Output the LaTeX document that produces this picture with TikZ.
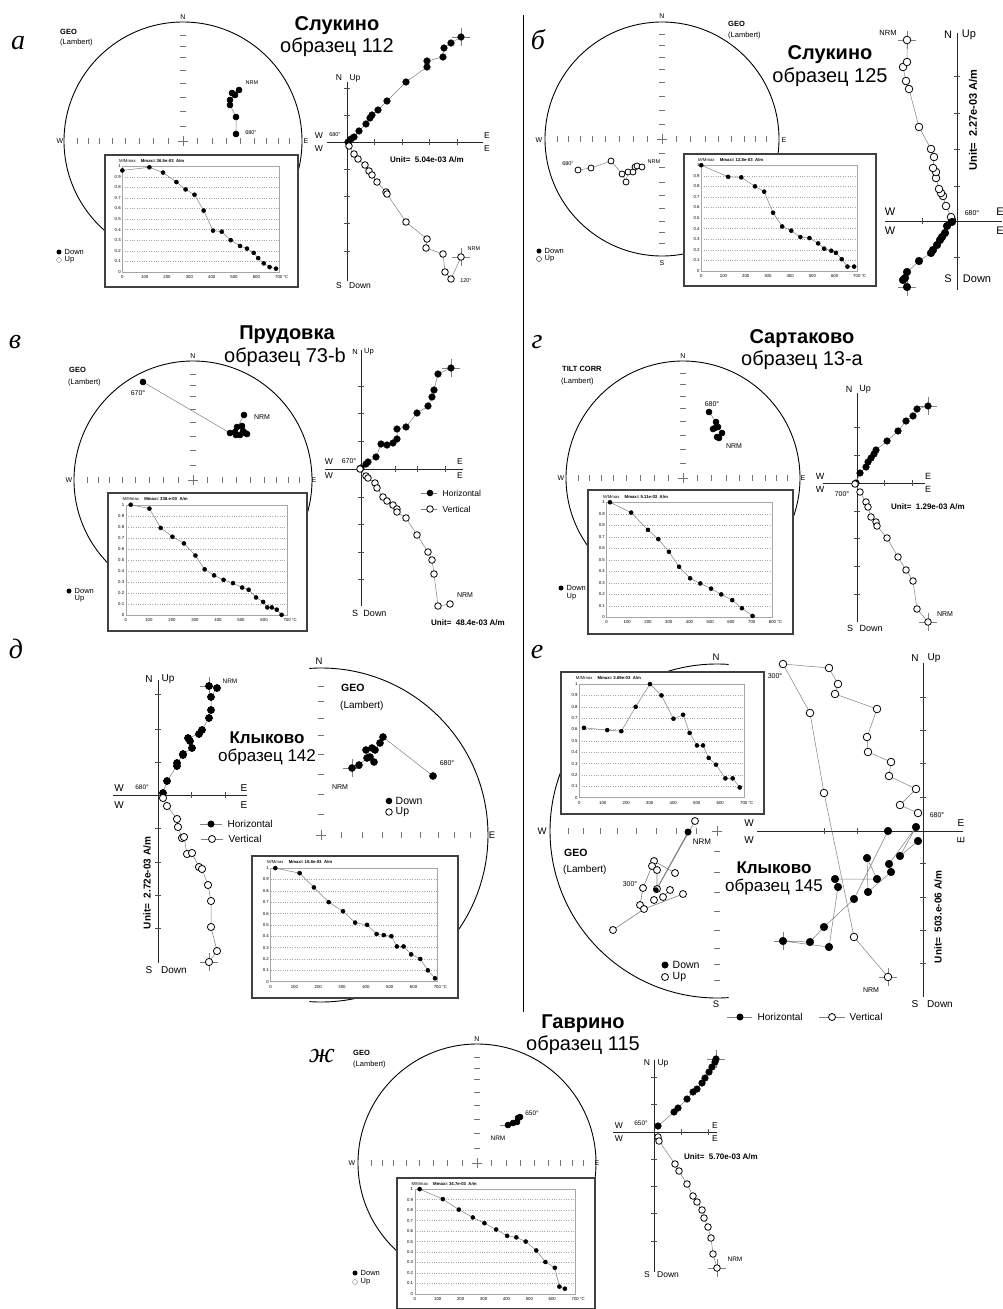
\documentclass[tikz,border=0pt]{standalone}
\usepackage{fontspec}
\setmainfont{Liberation Sans}
\newfontfamily\letfont{Liberation Serif}

\newcommand{\stereo}[3]{%
  \foreach \f in {0.123,0.246,0.366,0.483,0.595,0.700,0.799,0.891}{
    \draw[tk] ({#1+\f*#3},#2-3) -- ++(0,6);
    \draw[tk] ({#1-\f*#3},#2-3) -- ++(0,6);
    \draw[tk] (#1-3,{#2-\f*#3}) -- ++(6,0);
    \draw[tk] (#1-3,{#2+\f*#3}) -- ++(6,0);
  }
  \draw[tk] (#1-5,#2) -- (#1+5,#2) (#1,#2-5) -- (#1,#2+5);
}

\newcommand{\demag}[7]{%
  \begin{scope}[shift={(#1,#2)}]
    \pgfmathsetmacro\dL{0.09*#3}
    \pgfmathsetmacro\dR{0.90*#3}
    \pgfmathsetmacro\dT{0.085*#4}
    \pgfmathsetmacro\dB{0.885*#4}
    \pgfmathsetmacro\dH{\dB-\dT}
    \pgfmathsetmacro\xu{(\dR-\dL)/#5}
    \filldraw[fill=white, draw=black!75, line width=1.1pt] (0,0) rectangle (#3,#4);
    \foreach \k in {1,...,9}
      \draw[grd] (\dL,{\dB-\k*\dH/10}) -- (\dR,{\dB-\k*\dH/10});
    \draw[gray!70, line width=0.4pt] (\dL,\dT) rectangle (\dR,\dB);
    \foreach \k/\s in {0/0,1/0.1,2/0.2,3/0.3,4/0.4,5/0.5,6/0.6,7/0.7,8/0.8,9/0.9,10/1}
      \node[dtx, anchor=east] at (\dL-1,{\dB-\k*\dH/10}) {\s};
    \foreach \t in {0,100,...,#5}
      \node[dtx] at ({\dL+\t*\xu},\dB+5) {\t};
    \node[dtx, anchor=west] at (\dR+4,\dB+5) {°C};
    \node[dtx, anchor=west] at (0.07*#3,0.045*#4) {M/Mmax\hspace{1.2em}\textbf{Mmax= #6\ \ A/m}};
    \begin{scope}[shift={(\dL,\dB)}, x=\xu pt, y=\dH pt]
      \draw[dm] plot coordinates {#7};
    \end{scope}
  \end{scope}
}

\begin{document}
\begin{tikzpicture}[x=1pt,y=-1pt,
  net/.style={line width=0.9pt},
  tk/.style={black!55, line width=0.6pt},
  zax/.style={black!85, line width=0.9pt},
  ztk/.style={black!70, line width=0.6pt},
  xh/.style={gray, line width=0.5pt},
  hz/.style={gray, line width=0.5pt, mark=*, mark size=3.3pt, mark options={draw=black, fill=black}},
  vt/.style={gray, line width=0.5pt, mark=*, mark size=3.3pt, mark options={draw=black, fill=white, line width=0.8pt}},
  sn/.style={hz, mark size=3pt},
  so/.style={vt, mark size=3pt},
  dm/.style={gray, line width=0.5pt, mark=*, mark size=2pt, mark options={draw=black, fill=black}},
  grd/.style={gray!70, dotted, line width=0.4pt},
  dtx/.style={font=\fontsize{4.3}{4.3}\selectfont, inner sep=0.5pt},
  plet/.style={font=\letfont\itshape\fontsize{28}{28}\selectfont, inner sep=0pt},
  ttl/.style={font=\fontsize{#1}{#1}\selectfont\bfseries}, ttl/.default=20,
  smp/.style={font=\fontsize{#1}{#1}\selectfont}, smp/.default=20,
  lb/.style={font=\fontsize{#1}{#1}\selectfont, inner sep=1pt}, lb/.default=7,
  geo/.style={font=\fontsize{#1}{#1}\selectfont\bfseries, anchor=west, inner sep=0pt}, geo/.default=7.5,
  lam/.style={font=\fontsize{#1}{#1}\selectfont, anchor=west, inner sep=0pt}, lam/.default=7.5,
  sm/.style={font=\fontsize{#1}{#1}\selectfont, inner sep=0.5pt}, sm/.default=5.5,
  zl/.style={font=\fontsize{#1}{#1}\selectfont, inner sep=0.5pt}, zl/.default=8.5,
  unt/.style={font=\fontsize{#1}{#1}\selectfont\bfseries, inner sep=0.5pt}, unt/.default=8,
  leg/.style={font=\fontsize{#1}{#1}\selectfont, anchor=west, inner sep=0.5pt}, leg/.default=7.5]
\useasboundingbox (0,0) rectangle (1002,1309);
\clip (0,0) rectangle (1002,1309);
\fill[white] (0,0) rectangle (1002,1309);

\draw[line width=1pt] (523,15) -- (523,1012);

% а
\node[plet] (aLet) at (18,43) {а};
\node[ttl] (aTtl) at (337,26) {Слукино};
\node[smp] (aSmp) at (337,47) {образец 112};
\draw[net] (183,141) circle (119);
\stereo{183}{141}{119}
\node[lb] (aN) at (183,17) {N};
\node[lb] (aW) at (60,141) {W};
\node[lb] (aE) at (306,141) {E};
\node[geo] (aGeo) at (60,32) {GEO};
\node[lam] (aLam) at (60,43) {(Lambert)};
\draw[sn] plot coordinates {(236,134) (236,117) (230,105) (230,100) (235,95) (232,93) (239,90)};
\node[sm] (aNrm) at (252,83) {NRM};
\node[sm] (a680) at (251,133) {680°};
\fill (59,252) circle (2.5);
\draw[gray] (59,260) circle (2.5);
\node[leg] (aDn) at (64,252) {Down};
\node[leg] (aUp) at (64,260) {Up};
\demag{105}{155}{193}{132}{700}{36.5e-03}{(0,0.96) (121,0.99) (182,0.94) (242,0.85) (283,0.78) (323,0.73) (364,0.58) (406,0.39) (445,0.38) (485,0.30) (527,0.245) (558,0.22) (588,0.18) (608,0.13) (633,0.08) (659,0.045) (688,0.03)}
\draw[zax] (327,142) -- (483,142) (347,82) -- (347,281);
\foreach \y in {88,115,169,196,223,251} \draw[ztk] (344,\y) -- (350,\y);
\foreach \x in {374,402,429,457} \draw[ztk] (\x,139) -- (\x,145);
\node[zl] (aZn) at (339,78) {N};
\node[zl] (aZu) at (355,78) {Up};
\node[zl] (aZs) at (339,286) {S};
\node[zl] (aZd) at (360,286) {Down};
\node[zl] (aZw) at (319,136) {W};
\node[zl] (aZw2) at (319,149) {W};
\node[zl] (aZe) at (487,136) {E};
\node[zl] (aZe2) at (487,149) {E};
\node[sm] (aZ680) at (335,135) {680°};
\node[sm] (aZ120) at (466,281) {120°};
\node[sm] (aZnrm) at (474,249) {NRM};
\node[unt] (aUnit) at (427,160) {Unit=\ \ 5.04e-03 A/m};
\draw[xh] (461,37) +(-9,0) -- +(9,0) +(0,-9) -- +(0,9);
\draw[xh] (461,257) +(-9,0) -- +(9,0) +(0,-9) -- +(0,9);
\draw[hz] plot coordinates {(348,142) (351,139) (354,137) (359,131) (366,124) (370,118) (372,115) (378,110) (387,101) (406,82) (427,67) (427,61) (443,57) (444,48) (451,43) (461,37)};
\draw[vt] plot coordinates {(349,146) (354,154) (358,159) (365,165) (369,171) (372,175) (377,182) (386,192) (387,194) (406,222) (427,239) (426,248) (443,254) (445,272) (451,279) (461,257)};

% б
\node[plet] (bLet) at (538,40) {б};
\node[ttl] (bTtl) at (830,55) {Слукино};
\node[smp] (bSmp) at (830,77) {образец 125};
\draw[net] (662,139) circle (117);
\stereo{662}{139}{117}
\node[lb] (bN) at (662,16) {N};
\node[lb] (bS) at (662,263) {S};
\node[lb] (bW) at (539,140) {W};
\node[lb] (bE) at (784,140) {E};
\node[geo] (bGeo) at (728,24) {GEO};
\node[lam] (bLam) at (728,36) {(Lambert)};
\draw[so] plot coordinates {(578,170) (591,168) (611,161) (622,174) (626,182) (628,172) (633,172) (635,167) (637,166) (642,167)};
\node[sm] (b680) at (568,164) {680°};
\node[sm] (bNrm) at (654,162) {NRM};
\fill (539,251) circle (2.5);
\draw (539,259) circle (2.5);
\node[leg] (bDn) at (544,251) {Down};
\node[leg] (bUp) at (544,259) {Up};
\demag{684}{154}{192}{132}{700}{12.8e-03}{(0,1.0) (121,0.89) (180,0.885) (242,0.80) (283,0.75) (323,0.55) (364,0.42) (405,0.38) (446,0.32) (487,0.31) (526,0.26) (553,0.21) (585,0.19) (606,0.17) (632,0.11) (658,0.04) (688,0.04)}
\draw[zax] (885,221) -- (1002,221) (957,33) -- (957,290);
\foreach \y in {76,113,149,186,257} \draw[ztk] (954,\y) -- (960,\y);
\draw[ztk] (922,218) -- (922,224);
\node[zl=11] (bZn) at (948,35) {N};
\node[zl=11] (bZu) at (969,35) {Up};
\node[zl=11] (bZs) at (948,279) {S};
\node[zl=11] (bZd) at (977,279) {Down};
\node[zl=11] (bZw) at (890,212) {W};
\node[zl=11] (bZw2) at (890,231) {W};
\node[zl=11] (bZe) at (1000,212) {E};
\node[zl=11] (bZe2) at (1000,231) {E};
\node[sm=7] (bZ680) at (972,213) {680°};
\node[sm=7.5] (bZnrm) at (888,33) {NRM};
\node[unt=11, rotate=90] (bUnit) at (973,120) {Unit=\ \ 2.27e-03 A/m};
\draw[xh] (907,40) +(-9,0) -- +(9,0) +(0,-9) -- +(0,9);
\draw[xh] (907,287) +(-9,0) -- +(9,0) +(0,-9) -- +(0,9);
\draw[vt, mark size=3.8pt] plot coordinates {(952,220) (951,217) (946,206) (943,196) (941,193) (939,189) (936,178) (936,172) (933,168) (934,157) (931,149) (919,127) (909,89) (906,81) (903,67) (907,62) (907,40)};
\draw[hz, mark size=3.8pt] plot coordinates {(952,222) (947,226) (945,233) (942,237) (940,240) (937,245) (933,250) (931,253) (919,261) (907,272) (905,278) (903,280) (907,287)};

% в
\node[plet] (cLet) at (15,342) {в};
\node[ttl] (cTtl) at (287,335) {Прудовка};
\node[smp] (cSmp) at (285,357) {образец 73-b};
\draw[net] (193,480) circle (119);
\stereo{193}{480}{119}
\node[lb] (cN) at (193,356) {N};
\node[lb] (cW) at (69,480) {W};
\node[lb] (cE) at (314,480) {E};
\node[geo] (cGeo) at (69,370) {GEO};
\node[lam] (cLam) at (68,383) {(Lambert)};
\draw[sn] plot coordinates {(143,382) (230,433) (236,435) (240,435) (247,434) (245,433) (243,431) (242,426) (237,427) (235,432) (244,415)};
\node[sm=7] (c670) at (138,393) {670°};
\node[sm=7] (cNrm) at (262,417) {NRM};
\fill (69,591) circle (2.5);
\node[leg] (cDn) at (74,591) {Down};
\node[leg] (cUp) at (74,599) {Up};
\demag{108}{493}{199}{138}{700}{338.e-03}{(21,1.0) (102,0.965) (151,0.79) (202,0.71) (252,0.65) (302,0.54) (342,0.415) (383,0.36) (424,0.32) (465,0.29) (505,0.25) (533,0.23) (565,0.16) (596,0.12) (614,0.07) (634,0.07) (655,0.05) (676,0.003)}
\draw[zax] (325,469) -- (463,469) (361,350) -- (361,606);
\foreach \y in {386,413,441,497,524,552,579} \draw[ztk] (358,\y) -- (364,\y);
\foreach \x in {395,417,445} \draw[ztk] (\x,466) -- (\x,472);
\node[zl=7.5] (cZn) at (355,352) {N};
\node[zl=7.5] (cZu) at (369,352) {Up};
\node[zl=9] (cZs) at (355,613) {S};
\node[zl=9] (cZd) at (375,613) {Down};
\node[zl] (cZw) at (329,462) {W};
\node[zl] (cZw2) at (329,476) {W};
\node[zl] (cZe) at (460,462) {E};
\node[zl] (cZe2) at (460,476) {E};
\node[sm=7] (cZ670) at (349,461) {670°};
\node[sm=7] (cZnrm) at (465,595) {NRM};
\node[unt] (cUnit) at (468,623) {Unit=\ \ 48.4e-03 A/m};
\draw[gray] (421,493) -- (437,493);
\fill (430,493) circle (3.3);
\node[leg=8.5] (cHor) at (442,493) {Horizontal};
\draw[gray] (421,509) -- (437,509);
\filldraw[fill=white, line width=0.8pt] (430,509) circle (3.3);
\node[leg=8.5] (cVer) at (442,509) {Vertical};
\draw[xh] (451,368) +(-9,0) -- +(9,0) +(0,-9) -- +(0,9);
\draw[hz] plot coordinates {(361,468) (366,464) (368,462) (376,457) (381,444) (387,445) (393,443) (397,439) (397,429) (406,427) (417,413) (428,406) (432,397) (434,390) (438,374) (451,368)};
\draw[vt] plot coordinates {(360,469) (366,476) (368,478) (375,483) (377,488) (383,497) (387,501) (393,505) (397,509) (397,512) (406,518) (417,535) (428,552) (432,560) (434,574) (438,606) (450,604)};

% г
\node[plet] (dLet) at (537,342) {г};
\node[ttl] (dTtl) at (802,339) {Сартаково};
\node[smp] (dSmp) at (802,360) {образец 13-а};
\draw[net] (683,478) circle (117);
\stereo{683}{478}{117}
\node[lb] (dN) at (683,356) {N};
\node[lb] (dW) at (561,478) {W};
\node[lb] (dE) at (803,478) {E};
\node[geo] (dGeo) at (562,369) {TILT CORR};
\node[lam] (dLam) at (561,382) {(Lambert)};
\draw[sn] plot coordinates {(709,412) (716,422) (715,428) (713,429) (718,427) (722,433) (717,437) (719,438)};
\node[sm=7] (d680) at (712,404) {680°};
\node[sm=7] (dNrm) at (734,446) {NRM};
\fill (561,588) circle (2.5);
\node[leg] (dDn) at (566,588) {Down};
\node[leg] (dUp) at (566,597) {Up};
\demag{588}{490}{205}{144}{800}{5.11e-03}{(17,1.0) (119,0.91) (200,0.76) (250,0.68) (301,0.57) (350,0.44) (403,0.34) (452,0.295) (504,0.25) (553,0.20) (606,0.15) (653,0.08) (704,0.013)}
\draw[zax] (823,483) -- (925,483) (857,393) -- (857,622);
\foreach \y in {427,455,511,538,566,594} \draw[ztk] (854,\y) -- (860,\y);
\foreach \x in {884,912} \draw[ztk] (\x,480) -- (\x,486);
\node[zl=9] (dZn) at (849,389) {N};
\node[zl=9] (dZu) at (865,389) {Up};
\node[zl=9] (dZs) at (850,628) {S};
\node[zl=9] (dZd) at (871,628) {Down};
\node[zl=9] (dZw) at (820,476) {W};
\node[zl=9] (dZw2) at (820,489) {W};
\node[zl=9] (dZe) at (928,476) {E};
\node[zl=9] (dZe2) at (928,489) {E};
\node[sm=7] (dZ700) at (842,494) {700°};
\node[sm=7] (dZnrm) at (945,614) {NRM};
\node[unt] (dUnit) at (928,507) {Unit=\ \ 1.29e-03 A/m};
\draw[xh] (928,406) +(-9,0) -- +(9,0) +(0,-9) -- +(0,9);
\draw[xh] (928,622) +(-9,0) -- +(9,0) +(0,-9) -- +(0,9);
\draw[hz] plot coordinates {(856,483) (860,473) (866,467) (868,462) (871,458) (874,454) (876,450) (887,441) (898,431) (906,421) (913,416) (917,409) (928,406)};
\draw[vt] plot coordinates {(855,484) (860,492) (866,502) (868,507) (871,517) (876,522) (877,526) (887,538) (898,557) (906,570) (913,581) (917,609) (928,622)};

% д
\node[plet] (eLet) at (16,649) {д};
\node[ttl=17] (eTtl) at (267,738) {Клыково};
\node[smp=17] (eSmp) at (267,757) {образец 142};
\draw[net] (321,835) ++(-94:167) arc[start angle=-94, end angle=94, radius=167];
\foreach \f in {0.123,0.246,0.366,0.483,0.595,0.700,0.799,0.891}{
  \draw[tk] (318,{835-\f*167}) -- ++(6,0);
  \draw[tk] ({321+\f*167},832) -- ++(0,6);
}
\draw[tk] (316,835) -- (326,835) (321,830) -- (321,840);
\node[lb=9.5] (eN) at (319,661) {N};
\node[lb=9.5] (eE) at (492,835) {E};
\node[geo=10.5] (eGeo) at (341,688) {GEO};
\node[lam=10] (eLam) at (340,706) {(Lambert)};
\draw[xh] (352,768) +(-9,0) -- +(9,0) +(0,-9) -- +(0,9);
\draw[sn, mark size=3.5pt] plot coordinates {(433,776) (383,737) (380,743) (375,750) (372,748) (366,750) (370,757) (374,762) (367,758) (359,765) (352,768)};
\node[sm=7] (e680) at (447,763) {680°};
\node[sm=7] (eNrm) at (340,787) {NRM};
\fill (389,801) circle (3.3);
\draw[line width=0.8pt] (389,812) circle (3.3);
\node[leg=10.5] (eDn) at (395,801) {Down};
\node[leg=10.5] (eUp) at (395,812) {Up};
\demag{252}{856}{206}{142}{700}{16.8e-03}{(20,1.0) (122,0.955) (182,0.83) (244,0.70) (304,0.62) (355,0.52) (405,0.50) (445,0.42) (475,0.41) (507,0.40) (530,0.31) (558,0.31) (590,0.24) (628,0.20) (660,0.10) (690,0.03)}
\draw[zax] (113,795) -- (247,795) (158,680) -- (158,963);
\foreach \y in {694,729,762,828,862,895,928} \draw[ztk] (155,\y) -- (161,\y);
\foreach \x in {191,225} \draw[ztk] (\x,792) -- (\x,798);
\node[zl=10] (eZn) at (149,679) {N};
\node[zl=10] (eZu) at (168,679) {Up};
\node[zl=10] (eZs) at (149,970) {S};
\node[zl=10] (eZd) at (174,970) {Down};
\node[zl=10] (eZw) at (119,788) {W};
\node[zl=10] (eZw2) at (119,805) {W};
\node[zl=10] (eZe) at (244,788) {E};
\node[zl=10] (eZe2) at (244,805) {E};
\node[sm=6.5] (eZ680) at (142,787) {680°};
\node[sm=6.5] (eZnrm) at (230,681) {NRM};
\node[unt=10, rotate=90] (eUnit) at (147,883) {Unit=\ \ 2.72e-03 A/m};
\draw[gray] (200,824) -- (222,824);
\fill (211,824) circle (3.5);
\node[leg=10] (eHor) at (227,824) {Horizontal};
\draw[gray] (201,839) -- (223,839);
\filldraw[fill=white, line width=0.8pt] (212,839) circle (3.5);
\node[leg=10] (eVer) at (228,839) {Vertical};
\draw[xh] (209,686) +(-9,0) -- +(9,0) +(0,-9) -- +(0,9);
\draw[xh] (209,962) +(-9,0) -- +(9,0) +(0,-9) -- +(0,9);
\draw[hz, mark size=3.6pt] plot coordinates {(163,793) (167,781) (177,766) (177,763) (183,755) (183,754) (192,748) (190,741) (188,738) (199,734) (202,730) (209,718) (211,710) (211,697) (217,688) (209,686)};
\draw[vt, mark size=3.6pt] plot coordinates {(163,798) (167,806) (177,819) (178,827) (182,838) (184,837) (187,854) (192,853) (199,867) (202,869) (208,885) (211,901) (211,927) (217,951) (209,962)};

% е
\node[plet] (fLet) at (537,652) {е};
\node[ttl=17] (fTtl) at (774,868) {Клыково};
\node[smp=17] (fSmp) at (774,887) {образец 145};
\draw[net] (717,831) ++(-86:167) arc[start angle=-86, end angle=-274, radius=167];
\foreach \f in {0.123,0.246,0.366,0.483,0.595,0.700,0.799,0.891}{
  \draw[tk] ({717-\f*167},828) -- ++(0,6);
  \draw[tk] (714,{831+\f*167}) -- ++(6,0);
}
\draw[tk] (712,831) -- (722,831) (717,826) -- (717,836);
\node[lb=9.5] (fN) at (716,657) {N};
\node[lb=9.5] (fW) at (542,831) {W};
\node[lb=9.5] (fS) at (716,1004) {S};
\node[geo=10.5] (fGeo) at (564,853) {GEO};
\node[lam=10] (fLam) at (563,870) {(Lambert)};
\draw[gray, line width=0.6pt] (688,832) -- (656,890) (695,821) -- (657,889) (654,861) -- (675,873) (657,870) -- (657,889) (652,866) -- (643,888) -- (640,905) (683,894) -- (644,909) -- (613,930) (663,897) -- (670,890);
\draw[so, mark size=3.5pt, only marks] plot coordinates {(695,821) (654,861) (652,866) (657,870) (675,873) (643,888) (657,889) (670,890) (683,894) (663,897) (654,900) (640,905) (644,909) (613,930)};
\fill (688,832) circle (3.5);
\fill (656,890) circle (2.8);
\node[sm=7] (f300) at (630,884) {300°};
\node[sm=8] (fNrm) at (702,842) {NRM};
\fill (665,965) circle (3.5);
\draw[line width=0.8pt] (665,977) circle (3.5);
\node[leg=10.5] (fDn) at (672,965) {Down};
\node[leg=10.5] (fUp) at (672,977) {Up};
\demag{561}{672}{203}{142}{700}{3.69e-03}{(20,0.615) (119,0.595) (179,0.585) (240,0.80) (301,1.0) (350,0.90) (401,0.695) (442,0.73) (470,0.57) (501,0.46) (527,0.46) (551,0.35) (582,0.29) (622,0.17) (653,0.17) (683,0.09)}
\draw[zax] (757,831) -- (963,831) (923,663) -- (923,997);
\foreach \y in {697,730,763,797,863,897,930,963} \draw[ztk] (920,\y) -- (926,\y);
\foreach \x in {824,857,889} \draw[ztk] (\x,828) -- (\x,834);
\node[zl=10] (fZn) at (915,658) {N};
\node[zl=10] (fZu) at (934,658) {Up};
\node[zl=10] (fZs) at (915,1004) {S};
\node[zl=10] (fZd) at (940,1004) {Down};
\node[zl=10] (fZw) at (749,823) {W};
\node[zl=10] (fZw2) at (749,840) {W};
\node[zl=10] (fZe) at (961,823) {E};
\node[zl=10, rotate=90] (fZe2) at (961,840) {E};
\node[sm=7] (fZ680) at (937,815) {680°};
\node[sm=7] (fZ300) at (775,676) {300°};
\node[sm=7] (fZnrm) at (871,990) {NRM};
\node[unt=10, rotate=90] (fUnit) at (938,917) {Unit=\ \ 503.e-06 A/m};
\draw[gray] (727,1017) -- (752,1017);
\fill (740,1017) circle (3.5);
\node[leg=10] (fHor) at (757,1017) {Horizontal};
\draw[gray] (819,1017) -- (845,1017);
\filldraw[fill=white, line width=0.8pt] (832,1017) circle (3.5);
\node[leg=10] (fVer) at (849,1017) {Vertical};
\draw[xh] (888,977) +(-9,0) -- +(9,0) +(0,-9) -- +(0,9);
\draw[xh] (783,941) +(-9,0) -- +(9,0) +(0,-9) -- +(0,9);
\draw[vt, mark size=3.8pt] plot coordinates {(888,977) (854,937) (824,793) (810,713) (783,664) (829,668) (838,684) (835,694) (877,709) (867,737) (868,752) (891,762) (889,776) (916,789) (900,805) (918,813)};
\draw[hz, mark size=3.8pt] plot coordinates {(888,831) (854,899) (824,927) (810,942) (783,941) (829,947) (838,887) (835,879) (877,879) (867,858) (868,892) (891,872) (889,864) (916,827) (900,856) (918,841)};

% ж
\node[plet] (gLet) at (322,1056) {ж};
\node[ttl] (gTtl) at (583,1024) {Гаврино};
\node[smp] (gSmp) at (583,1045) {образец 115};
\draw[net] (477,1163) circle (119);
\stereo{477}{1163}{119}
\node[lb] (gN) at (477,1039) {N};
\node[lb] (gW) at (352,1163) {W};
\node[lb] (gE) at (597,1163) {E};
\node[geo] (gGeo) at (353,1053) {GEO};
\node[lam] (gLam) at (353,1065) {(Lambert)};
\draw[xh] (500,1125) -- (508,1125);
\draw[sn] plot coordinates {(508,1125) (513,1123) (517,1122) (518,1118) (520,1117)};
\node[sm=6.5] (g650) at (532,1113) {650°};
\node[sm=6.5] (gNrm) at (498,1138) {NRM};
\fill (355,1273) circle (2.5);
\draw[gray] (355,1282) circle (2.5);
\node[leg] (gDn) at (360,1273) {Down};
\node[leg] (gUp) at (360,1282) {Up};
\demag{397}{1178}{198}{131}{700}{34.7e-03}{(21,1.0) (122,0.905) (192,0.805) (253,0.73) (304,0.675) (355,0.615) (403,0.555) (443,0.54) (484,0.50) (530,0.415) (570,0.305) (611,0.25) (631,0.07) (655,0.05)}
\draw[zax] (613,1132) -- (717,1132) (654,1060) -- (654,1272);
\foreach \y in {1077,1104,1159,1186,1213,1241} \draw[ztk] (651,\y) -- (657,\y);
\foreach \x in {681,708} \draw[ztk] (\x,1129) -- (\x,1135);
\node[zl] (gZn) at (647,1063) {N};
\node[zl] (gZu) at (663,1063) {Up};
\node[zl] (gZs) at (647,1275) {S};
\node[zl] (gZd) at (668,1275) {Down};
\node[zl] (gZw) at (619,1126) {W};
\node[zl] (gZw2) at (619,1139) {W};
\node[zl] (gZe) at (715,1126) {E};
\node[zl] (gZe2) at (715,1139) {E};
\node[sm=6.5] (gZ650) at (641,1123) {650°};
\node[sm=6.5] (gZnrm) at (735,1259) {NRM};
\node[unt] (gUnit) at (721,1157) {Unit=\ \ 5.70e-03 A/m};
\draw[xh] (716,1059) +(-9,0) -- +(9,0) +(0,-9) -- +(0,9);
\draw[xh] (717,1268) +(-9,0) -- +(9,0) +(0,-9) -- +(0,9);
\draw[hz] plot coordinates {(658,1126) (674,1112) (678,1108) (687,1099) (693,1092) (697,1089) (702,1083) (705,1078) (709,1072) (712,1067) (715,1062) (716,1059)};
\draw[vt] plot coordinates {(658,1137) (659,1141) (675,1164) (679,1171) (687,1184) (693,1196) (697,1202) (702,1210) (704,1218) (708,1227) (711,1238) (713,1254) (717,1268)};
\end{tikzpicture}
\end{document}
